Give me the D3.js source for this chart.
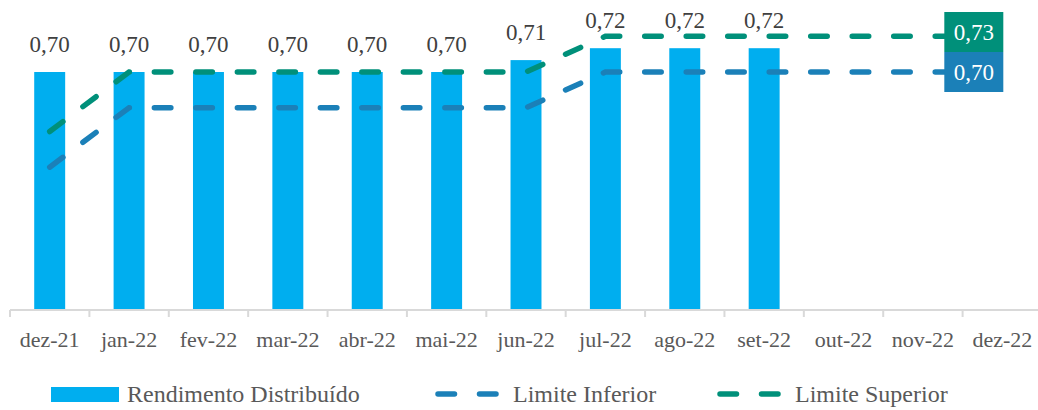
<!DOCTYPE html>
<html>
<head>
<meta charset="utf-8">
<script src="https://cdn.jsdelivr.net/npm/d3@7"></script>
<style>
  body { margin: 0; background: #fff; }
  svg text { font-family: "Palatino Linotype", "Book Antiqua", Palatino, "Liberation Serif", serif; }
</style>
</head>
<body>
<svg id="chart" width="1038" height="410"></svg>
<script>
const months = ['dez-21', 'jan-22', 'fev-22', 'mar-22', 'abr-22', 'mai-22', 'jun-22', 'jul-22', 'ago-22', 'set-22', 'out-22', 'nov-22', 'dez-22'];
const rendimento = [0.70, 0.70, 0.70, 0.70, 0.70, 0.70, 0.71, 0.72, 0.72, 0.72, null, null, null];
const limiteInferior = [0.62, 0.67, 0.67, 0.67, 0.67, 0.67, 0.67, 0.70, 0.70, 0.70, 0.70, 0.70, 0.70];
const limiteSuperior = [0.65, 0.70, 0.70, 0.70, 0.70, 0.70, 0.70, 0.73, 0.73, 0.73, 0.73, 0.73, 0.73];

const colors = { bar: '#00aeef', lower: '#1b80b8', upper: '#00907a' };

const svg = d3.select('#chart');
const fmt = v => v.toFixed(2).replace('.', ',');

const x = d3.scaleBand().domain(months).range([10, 1042]);
const y = d3.scaleLinear().domain([0.5, 0.75]).range([310, 12.5]);
const barWidth = x.bandwidth() * 0.39;
const cx = m => x(m) + x.bandwidth() / 2;

// bars
const barData = months.map((m, i) => ({ m, v: rendimento[i] })).filter(d => d.v != null);
svg.append('g').selectAll('rect').data(barData).enter().append('rect')
    .attr('x', d => cx(d.m) - barWidth / 2)
    .attr('y', d => y(d.v))
    .attr('width', barWidth)
    .attr('height', d => y.range()[0] - y(d.v))
    .attr('fill', colors.bar);

// axis
const axis = svg.append('g').attr('transform', 'translate(0,310)');
axis.append('line').attr('x1', 10).attr('x2', 1038).attr('stroke', '#d9d9d9').attr('stroke-width', 2);
axis.selectAll('line.tick').data(months).enter().append('line')
    .attr('class', 'tick')
    .attr('x1', d => x(d)).attr('x2', d => x(d))
    .attr('y1', 0).attr('y2', 7)
    .attr('stroke', '#d9d9d9').attr('stroke-width', 2);
axis.selectAll('text').data(months).enter().append('text')
    .attr('x', d => cx(d)).attr('y', 37)
    .attr('text-anchor', 'middle')
    .attr('font-size', 22)
    .attr('fill', '#595959')
    .text(d => d);

// dashed limit lines
const line = d3.line().x(d => cx(d.m)).y(d => y(d.v));
[[limiteInferior, colors.lower], [limiteSuperior, colors.upper]].forEach(([vals, col]) => {
    svg.append('path')
        .datum(months.map((m, i) => ({ m, v: vals[i] })))
        .attr('d', line)
        .attr('fill', 'none')
        .attr('stroke', col)
        .attr('stroke-width', 5.5)
        .attr('stroke-linecap', 'round')
        .attr('stroke-dasharray', '16.5,25');
});

// bar value labels
svg.append('g').selectAll('text').data(barData).enter().append('text')
    .attr('x', d => cx(d.m))
    .attr('y', d => y(d.v) - 20)
    .attr('text-anchor', 'middle')
    .attr('font-size', 23)
    .attr('fill', '#404040')
    .text(d => fmt(d.v));

// end labels in boxes
const last = months[months.length - 1];
const boxW = 59, boxH = 40;
const lowV = limiteInferior[limiteInferior.length - 1];
const upV = limiteSuperior[limiteSuperior.length - 1];
const lowTop = y(lowV) - boxH / 2;
[[lowV, colors.lower, lowTop], [upV, colors.upper, lowTop - boxH]].forEach(([v, col, top]) => {
    const bx = cx(last) + 1 - boxW;
    svg.append('rect').attr('x', bx).attr('y', top).attr('width', boxW).attr('height', boxH).attr('fill', col);
    svg.append('text')
        .attr('x', bx + boxW / 2).attr('y', top + 28)
        .attr('text-anchor', 'middle')
        .attr('font-size', 23)
        .attr('fill', '#fff')
        .text(fmt(v));
});

// legend
const legend = svg.append('g');
legend.append('rect').attr('x', 51).attr('y', 387).attr('width', 68).attr('height', 15).attr('fill', colors.bar);
legend.append('text').attr('x', 127).attr('y', 402).attr('font-size', 24).attr('fill', '#595959').text('Rendimento Distribuído');
[[435, 513, colors.lower, 'Limite Inferior'], [717, 795, colors.upper, 'Limite Superior']].forEach(([sx, tx, col, label]) => {
    legend.append('line')
        .attr('x1', sx + 3).attr('x2', sx + 62).attr('y1', 394).attr('y2', 394)
        .attr('stroke', col).attr('stroke-width', 5.5)
        .attr('stroke-linecap', 'round').attr('stroke-dasharray', '16.5,25');
    legend.append('text').attr('x', tx).attr('y', 402).attr('font-size', 24).attr('fill', '#595959').text(label);
});
</script>
</body>
</html>
